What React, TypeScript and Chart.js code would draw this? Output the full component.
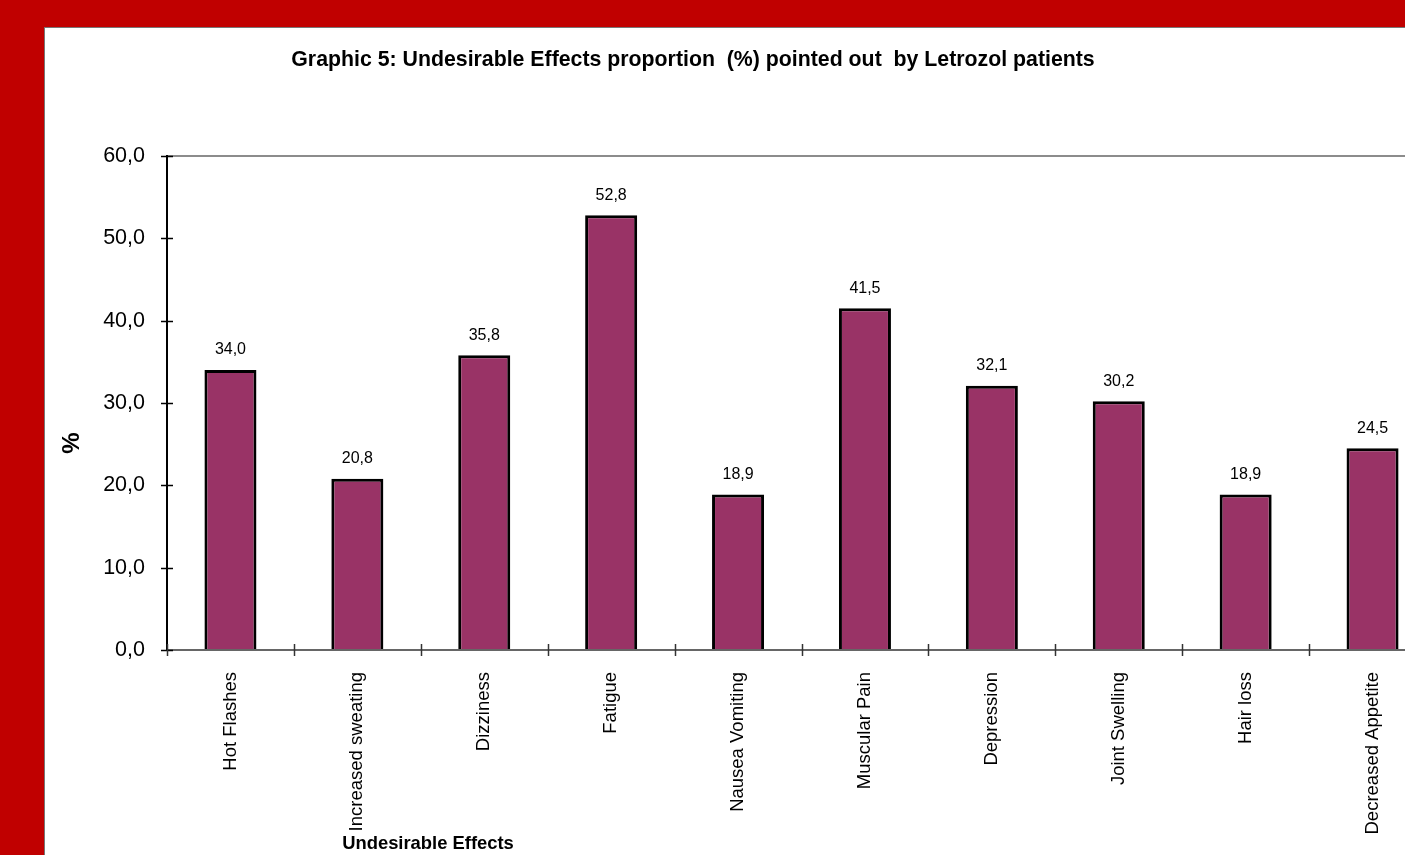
import React, { useEffect, useRef } from "react";
import { Chart, registerables } from "chart.js";

Chart.register(...registerables);

const categories = [
  "Hot Flashes",
  "Increased sweating",
  "Dizziness",
  "Fatigue",
  "Nausea Vomiting",
  "Muscular Pain",
  "Depression",
  "Joint Swelling",
  "Hair loss",
  "Decreased Appetite",
];
const values = [34.0, 20.8, 35.8, 52.8, 18.9, 41.5, 32.1, 30.2, 18.9, 24.5];
const yTicks = [0, 10, 20, 30, 40, 50, 60];

const titleText = "Graphic 5: Undesirable Effects proportion  (%) pointed out  by Letrozol patients";
const xTitleText = "Undesirable Effects";
const yTitleText = "%";

const fmt = (v: number) => v.toFixed(1).replace(".", ",");
const FONT = "Arial, 'Liberation Sans', sans-serif";

const extrasPlugin = {
  id: "extras",
  afterDraw(chart: any) {
    const ctx = chart.ctx;
    const xs = chart.scales.x;
    const ys = chart.scales.y;
    ctx.save();
    // crossing ticks on y axis
    ctx.strokeStyle = "#000";
    ctx.lineWidth = 1.5;
    yTicks.forEach((t) => {
      const y = Math.round(ys.getPixelForValue(t)) + 0.5;
      ctx.beginPath();
      ctx.moveTo(xs.left - 6, y);
      ctx.lineTo(xs.left + 6, y);
      ctx.stroke();
    });
    // crossing ticks on x axis at category boundaries
    ctx.strokeStyle = "#333";
    for (let i = 0; i <= categories.length; i++) {
      const x = Math.round(xs.getPixelForValue(i - 0.5)) + 0.5;
      ctx.beginPath();
      ctx.moveTo(x, ys.bottom - 6);
      ctx.lineTo(x, ys.bottom + 6);
      ctx.stroke();
    }
    // data labels
    const meta = chart.getDatasetMeta(0);
    ctx.fillStyle = "#000";
    ctx.font = `16px ${FONT}`;
    ctx.textAlign = "center";
    ctx.textBaseline = "middle";
    meta.data.forEach((el: any, i: number) => {
      ctx.fillText(fmt(values[i]), el.x, el.y - 20);
    });
    // titles
    ctx.font = `bold 21.3px ${FONT}`;
    ctx.fillText(titleText, 649, 33);
    ctx.font = `bold 18.4px ${FONT}`;
    ctx.fillText(xTitleText, 384, 817);
    ctx.translate(28, 416);
    ctx.rotate(-Math.PI / 2);
    ctx.font = `bold 24px ${FONT}`;
    ctx.fillText(yTitleText, 0, 0);
    ctx.restore();
  },
};

export default function App() {
  const ref = useRef<HTMLCanvasElement | null>(null);
  useEffect(() => {
    if (!ref.current) return;
    const chart = new Chart(ref.current, {
      type: "bar",
      data: {
        labels: categories,
        datasets: [
          {
            data: values,
            backgroundColor: "#993366",
            borderColor: "#000",
            borderWidth: 3,
            barPercentage: 0.41,
            categoryPercentage: 1,
          },
        ],
      },
      options: {
        animation: false,
        responsive: false,
        devicePixelRatio: 1,
        layout: { padding: { left: 0, top: 129, right: 48, bottom: 0 } },
        plugins: {
          legend: { display: false },
          tooltip: { enabled: false },
          title: { display: false },
        },
        scales: {
          x: {
            offset: true,
            grid: { display: false, drawTicks: false },
            border: { display: true, color: "#666", width: 2 },
            ticks: {
              autoSkip: false,
              maxRotation: 90,
              minRotation: 90,
              padding: 22,
              color: "#000",
              font: { family: FONT, size: 18.5 },
            },
            afterFit: (s: any) => {
              s.height = 205;
            },
          },
          y: {
            min: 0,
            max: 60,
            afterBuildTicks: (s: any) => {
              s.ticks = yTicks.map((v) => ({ value: v }));
            },
            grid: {
              drawTicks: false,
              lineWidth: 2,
              color: (c: any) => (c.tick && c.tick.value === 60 ? "#8c8c8c" : "rgba(0,0,0,0)"),
            },
            border: { display: true, color: "#000", width: 2 },
            ticks: {
              padding: 22,
              color: "#000",
              font: { family: FONT, size: 21.5 },
              callback: (v: any) => fmt(Number(v)),
            },
            afterFit: (s: any) => {
              s.width = 123;
            },
          },
        },
      },
      plugins: [extrasPlugin],
    });
    return () => chart.destroy();
  }, []);

  return (
    <div
      style={{
        position: "fixed",
        left: 0,
        top: 0,
        width: 1405,
        height: 855,
        background: "#c00000",
        overflow: "hidden",
      }}
    >
      <div
        style={{
          position: "absolute",
          left: 44,
          top: 27,
          width: 1500,
          height: 900,
          background: "#fff",
          borderTop: "1px solid #777",
          borderLeft: "1px solid #777",
          boxSizing: "border-box",
        }}
      />
      <canvas
        ref={ref}
        width={1440}
        height={828}
        style={{ position: "absolute", left: 44, top: 27, width: 1440, height: 828 }}
      />
    </div>
  );
}
